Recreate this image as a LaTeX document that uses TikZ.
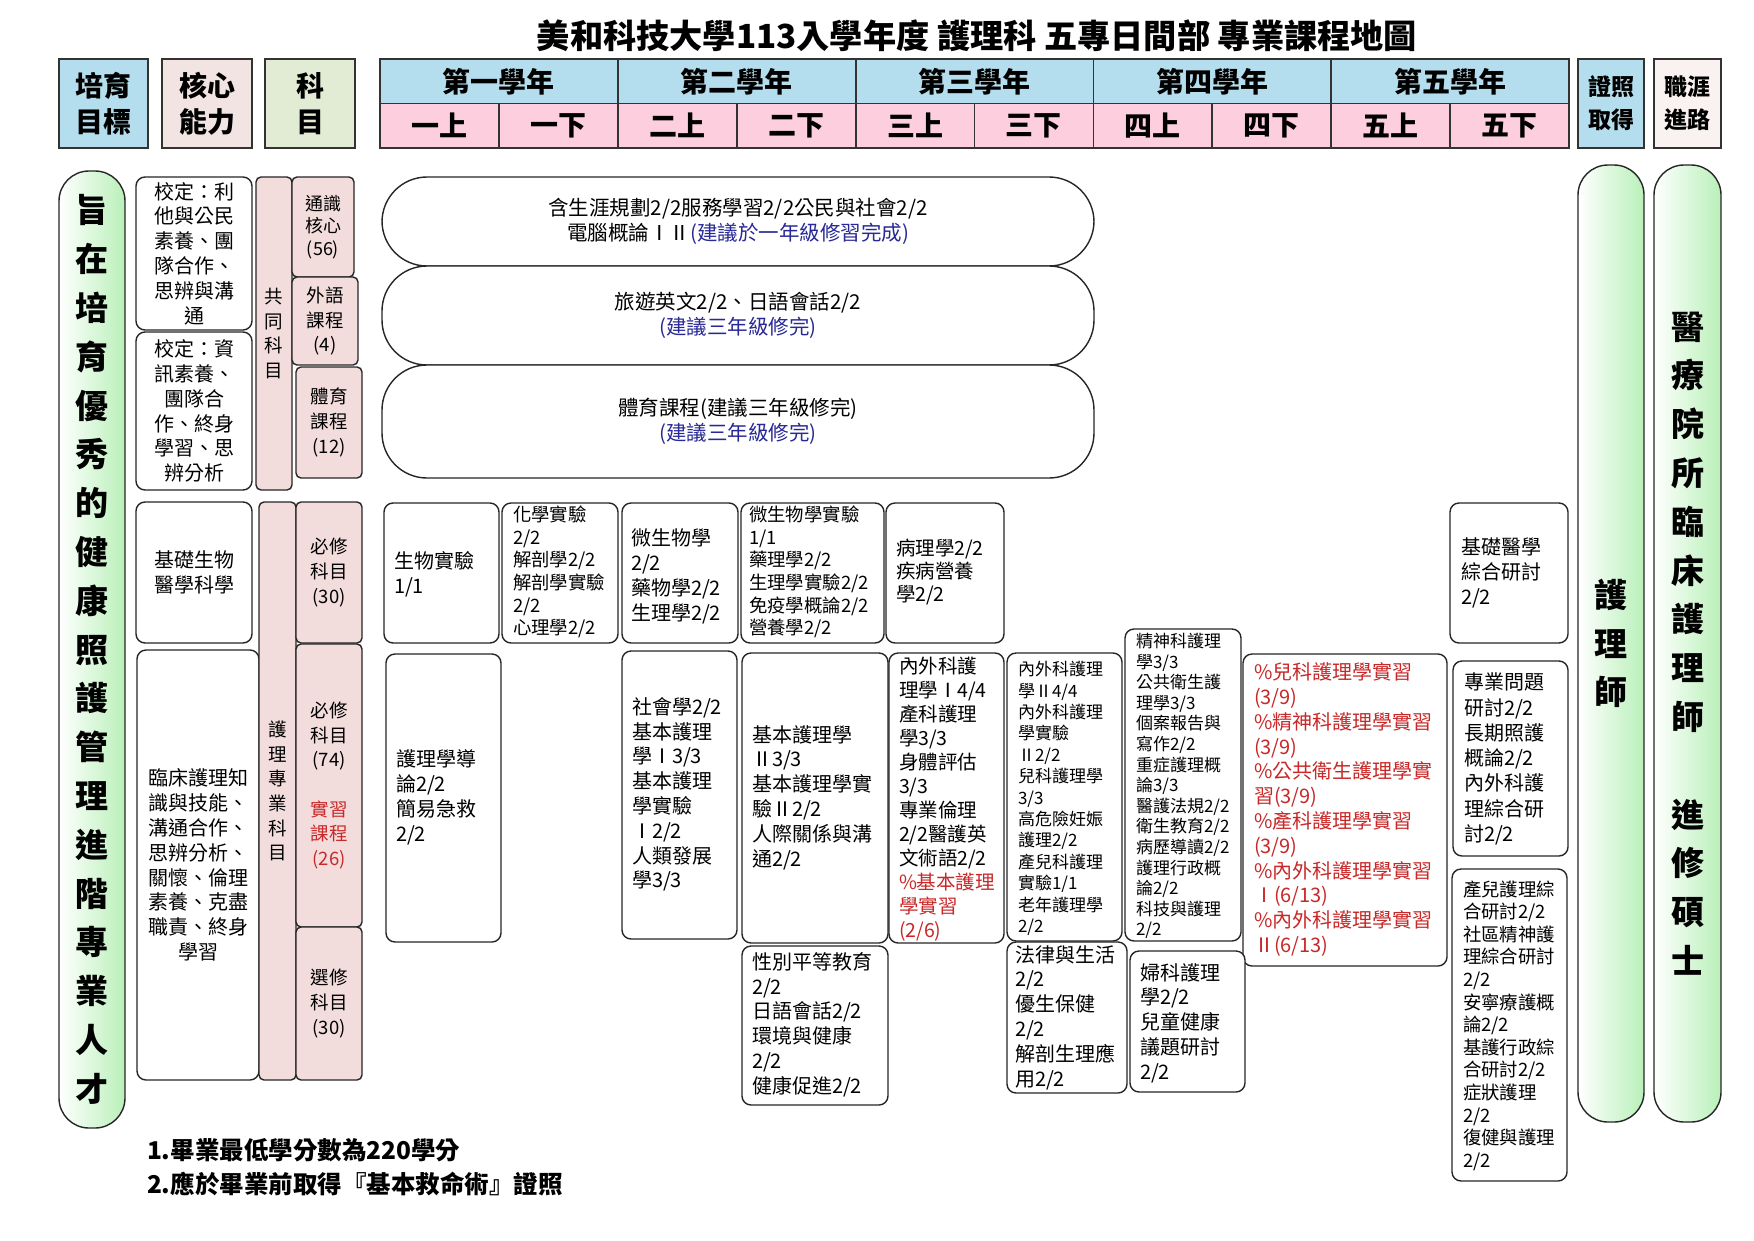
\documentclass[tikz,border=0pt]{standalone}
\usepackage{fontspec}
\setmainfont{Noto Sans CJK TC}
\definecolor{hblue}{RGB}{180,221,237}
\definecolor{hpink}{RGB}{252,206,222}
\definecolor{cpink}{RGB}{243,228,228}
\definecolor{sgreen}{RGB}{226,236,213}
\definecolor{pathc}{RGB}{249,242,240}
\definecolor{subjpink}{RGB}{242,221,220}
\definecolor{pillgreen}{RGB}{185,240,185}
\definecolor{redt}{RGB}{200,40,40}
\definecolor{bluet}{RGB}{40,40,150}
\newcommand{\myT}{\fontsize{33.2}{40}\selectfont}
\newcommand{\myH}{\fontsize{28}{36}\selectfont}
\newcommand{\myHs}{\fontsize{23}{33}\selectfont}
\newcommand{\myP}{\fontsize{33}{48.8}\selectfont}
\newcommand{\myG}{\fontsize{20.5}{25}\selectfont}
\newcommand{\myA}{\fontsize{20}{24.8}\selectfont}
\newcommand{\myAb}{\fontsize{19.5}{23}\selectfont}
\newcommand{\myAc}{\fontsize{19.5}{24}\selectfont}
\newcommand{\myB}{\fontsize{18.4}{22.6}\selectfont}
\newcommand{\myC}{\fontsize{17}{21.4}\selectfont}
\newcommand{\myCc}{\fontsize{17}{20.6}\selectfont}
\newcommand{\myS}{\fontsize{18.5}{24.7}\selectfont}
\newcommand{\mySs}{\fontsize{18}{22.5}\selectfont}
\newcommand{\myN}{\fontsize{24.5}{33}\selectfont}
% box: [style]{name}{x1}{y1}{x2}{y2}{text}
\newcommand{\bx}[7][]{\node[#1,anchor=north west,minimum width={#5pt-#3pt},minimum height={#6pt-#4pt}] (#2) at (#3,#4) {#7};}
\begin{document}
\begin{tikzpicture}[x=1pt,y=-1pt,
  every node/.style={inner sep=0pt,outer sep=0pt},
  hdr/.style={draw=black!80,line width=1.8pt,font=\myH\bfseries,align=center},
  box/.style={draw=black!85,line width=1.4pt,rounded corners=9pt,fill=white},
  subj/.style={draw=black!85,line width=1.4pt,rounded corners=5pt,fill=subjpink,font=\myS,align=center},
  core/.style={draw=black!85,line width=1.4pt,rounded corners=9pt,fill=white,font=\myA,align=center},
  pill/.style={draw=black!85,line width=1.4pt,rounded corners=30pt,left color=white,right color=pillgreen,font=\myP\bfseries,align=center},
  big/.style={draw=black!85,line width=1.4pt,rounded corners=45pt,fill=white,font=\myG,align=center},
  tl/.style={anchor=west,align=left},
]
\useasboundingbox (0,0) rectangle (1754,1240);
\fill[white] (0,0) rectangle (1754,1240);

% title
\node[font=\myT\bfseries] (title) at (977,36) {美和科技大學113入學年度 護理科 五專日間部 專業課程地圖};

% header
\bx[hdr,fill=hblue]{hgoal}{59}{59}{148}{148}{培育\\目標}
\bx[hdr,fill=cpink]{hcore}{162}{59}{252}{148}{核心\\能力}
\bx[hdr,fill=sgreen]{hsubj}{265}{59}{355}{148}{科\\目}
\bx[hdr,fill=hblue]{y1}{380}{59}{617.8}{103.5}{第一學年}
\bx[hdr,fill=hblue]{y2}{617.8}{59}{855.6}{103.5}{第二學年}
\bx[hdr,fill=hblue]{y3}{855.6}{59}{1093.4}{103.5}{第三學年}
\bx[hdr,fill=hblue]{y4}{1093.4}{59}{1331.2}{103.5}{第四學年}
\bx[hdr,fill=hblue]{y5}{1331.2}{59}{1569}{103.5}{第五學年}
\bx[hdr,fill=hpink]{s1}{380}{103.5}{498.9}{148}{一上}
\bx[hdr,fill=hpink]{s2}{498.9}{103.5}{617.8}{148}{一下}
\bx[hdr,fill=hpink]{s3}{617.8}{103.5}{736.7}{148}{二上}
\bx[hdr,fill=hpink]{s4}{736.7}{103.5}{855.6}{148}{二下}
\bx[hdr,fill=hpink]{s5}{855.6}{103.5}{974.5}{148}{三上}
\bx[hdr,fill=hpink]{s6}{974.5}{103.5}{1093.4}{148}{三下}
\bx[hdr,fill=hpink]{s7}{1093.4}{103.5}{1212.3}{148}{四上}
\bx[hdr,fill=hpink]{s8}{1212.3}{103.5}{1331.2}{148}{四下}
\bx[hdr,fill=hpink]{s9}{1331.2}{103.5}{1450.1}{148}{五上}
\bx[hdr,fill=hpink]{s10}{1450.1}{103.5}{1569}{148}{五下}
\bx[hdr,fill=hblue,font=\myHs\bfseries]{hcert}{1578}{59}{1644}{148}{證照\\取得}
\bx[hdr,fill=pathc,font=\myHs\bfseries]{hpath}{1654}{59}{1721}{148}{職涯\\進路}

% pills
\bx[pill]{goal}{59}{171}{125}{1128}{旨\\在\\培\\育\\優\\秀\\的\\健\\康\\照\\護\\管\\理\\進\\階\\專\\業\\人\\才}
\bx[pill]{nurse}{1578}{165}{1644}{1122}{護\\理\\師}
\bx[pill]{career}{1654}{165}{1721}{1122}{醫\\療\\院\\所\\臨\\床\\護\\理\\師\\[48.8pt]進\\修\\碩\\士}

% core abilities
\bx[core]{core1}{136}{177}{252}{330}{校定：利\\他與公民\\素養、團\\隊合作、\\思辨與溝\\通}
\bx[core]{core2}{136}{332}{252}{490}{校定：資\\訊素養、\\團隊合\\作、終身\\學習、思\\辨分析}
\bx[core]{core3}{136}{502}{252}{643}{基礎生物\\醫學科學}
\bx[core]{core4}{137}{650}{259}{1080}{臨床護理知\\識與技能、\\溝通合作、\\思辨分析、\\關懷、倫理\\素養、克盡\\職責、終身\\學習}

% subject column
\bx[subj]{common}{256}{177}{292}{490}{共\\同\\科\\目}
\bx[subj,font=\mySs]{gen}{292}{177}{354}{277}{通識\\核心\\(56)}
\bx[subj]{lang}{292}{277}{358}{365}{外語\\課程\\(4)}
\bx[subj]{pe}{296}{367}{362}{478}{體育\\課程\\(12)}
\bx[subj]{prof}{259}{502}{296}{1080}{護\\理\\專\\業\\科\\目}
\bx[subj]{req30}{296}{502}{362}{643}{必修\\科目\\(30)}
\bx[subj]{req74}{296}{644}{362}{927}{必修\\科目\\(74)\\[24.7pt]\textcolor{redt}{實習}\\\textcolor{redt}{課程}\\\textcolor{redt}{(26)}}
\bx[subj]{elec}{296}{927}{362}{1080}{選修\\科目\\(30)}

% common courses
\bx[big]{gcore}{382}{177}{1094}{266}{含生涯規劃2/2服務學習2/2公民與社會2/2\\電腦概論ⅠⅡ\textcolor{bluet}{(建議於一年級修習完成)}}
\bx[big]{glang}{382}{266}{1094}{365}{旅遊英文2/2、日語會話2/2\\\textcolor{bluet}{(建議三年級修完)}}
\bx[big]{gpe}{382}{365}{1094}{478}{體育課程(建議三年級修完)\\\textcolor{bluet}{(建議三年級修完)}}

% row 1 boxes
\bx[box]{bio}{384}{503}{499}{643}{}
\node[tl,font=\myA] (bio-t) at (394,574.5) {生物實驗\\1/1};
\bx[box]{chem}{502}{503}{618}{643}{}
\node[tl,font=\myB] (chem-t) at (513,572) {化學實驗\\2/2\\解剖學2/2\\解剖學實驗\\2/2\\心理學2/2};
\bx[box]{micro}{622}{503}{738}{643}{}
\node[tl,font=\myA] (micro-t) at (631,576.5) {微生物學\\2/2\\藥物學2/2\\生理學2/2};
\bx[box]{mlab}{741}{503}{884}{643}{}
\node[tl,font=\myB] (mlab-t) at (749,572) {微生物學實驗\\1/1\\藥理學2/2\\生理學實驗2/2\\免疫學概論2/2\\營養學2/2};
\bx[box]{path}{886}{503}{1004}{643}{}
\node[tl,font=\myAb] (path-t) at (896,572.5) {病理學2/2\\疾病營養\\學2/2};
\bx[box]{bmed}{1450}{503}{1568}{643}{}
\node[tl,font=\myA] (bmed-t) at (1461,573) {基礎醫學\\綜合研討\\2/2};

% row 2 boxes
\bx[box]{intro}{386}{654}{501}{942}{}
\node[tl,font=\myA] (intro-t) at (396,797.5) {護理學導\\論2/2\\簡易急救\\2/2};
\bx[box]{socio}{622}{651}{737}{939}{}
\node[tl,font=\myA] (socio-t) at (632,794.5) {社會學2/2\\基本護理\\學Ⅰ3/3\\基本護理\\學實驗\\Ⅰ2/2\\人類發展\\學3/3};
\bx[box]{bn2}{742}{653}{888}{943}{}
\node[tl,font=\myA] (bn2-t) at (752,797.5) {基本護理學\\Ⅱ3/3\\基本護理學實\\驗Ⅱ2/2\\人際關係與溝\\通2/2};
\bx[box]{med1}{889}{653}{1004}{943}{}
\node[tl,font=\myAc] (med1-t) at (899,799) {內外科護\\理學Ⅰ4/4\\產科護理\\學3/3\\身體評估\\3/3\\專業倫理\\2/2醫護英\\文術語2/2\\\textcolor{redt}{\%基本護理}\\\textcolor{redt}{學實習}\\\textcolor{redt}{(2/6)}};
\bx[box]{med2}{1007}{653}{1122}{941}{}
\node[tl,font=\myC] (med2-t) at (1018,798.5) {內外科護理\\學Ⅱ4/4\\內外科護理\\學實驗\\Ⅱ2/2\\兒科護理學\\3/3\\高危險妊娠\\護理2/2\\產兒科護理\\實驗1/1\\老年護理學\\2/2};
\bx[box]{psych}{1125}{629}{1241}{941}{}
\node[tl,font=\myCc] (psych-t) at (1136,786) {精神科護理\\學3/3\\公共衛生護\\理學3/3\\個案報告與\\寫作2/2\\重症護理概\\論3/3\\醫護法規2/2\\衛生教育2/2\\病歷導讀2/2\\護理行政概\\論2/2\\科技與護理\\2/2};
\bx[box]{prac}{1243}{654}{1447}{966}{}
\node[tl,font=\myA,text=redt] (prac-t) at (1254,809.5) {\%兒科護理學實習\\(3/9)\\\%精神科護理學實習\\(3/9)\\\%公共衛生護理學實\\習(3/9)\\\%產科護理學實習\\(3/9)\\\%內外科護理學實習\\Ⅰ(6/13)\\\%內外科護理學實習\\Ⅱ(6/13)};
\bx[box]{review}{1453}{661}{1568}{856}{}
\node[tl,font=\fontsize{20}{25.3}\selectfont] (review-t) at (1464,759) {專業問題\\研討2/2\\長期照護\\概論2/2\\內外科護\\理綜合研\\討2/2};
\bx[box]{comp}{1452}{869}{1567}{1181}{}
\node[tl,font=\myB] (comp-t) at (1463,1025.5) {產兒護理綜\\合研討2/2\\社區精神護\\理綜合研討\\2/2\\安寧療護概\\論2/2\\基護行政綜\\合研討2/2\\症狀護理\\2/2\\復健與護理\\2/2};

% row 3 boxes
\bx[box]{gender}{742}{946}{888}{1105}{}
\node[tl,font=\myA] (gender-t) at (752,1024.5) {性別平等教育\\2/2\\日語會話2/2\\環境與健康\\2/2\\健康促進2/2};
\bx[box]{law}{1007}{942}{1127}{1093}{}
\node[tl,font=\myA] (law-t) at (1015,1017.5) {法律與生活\\2/2\\優生保健\\2/2\\解剖生理應\\用2/2};
\bx[box]{gyn}{1130}{951}{1245}{1092}{}
\node[tl,font=\myA] (gyn-t) at (1140,1023) {婦科護理\\學2/2\\兒童健康\\議題研討\\2/2};

% notes
\node[tl,font=\myN\bfseries] (note1) at (147,1150) {1.畢業最低學分數為220學分};
\node[tl,font=\myN\bfseries] (note2) at (147,1184) {2.應於畢業前取得『基本救命術』證照};
\end{tikzpicture}
\end{document}
